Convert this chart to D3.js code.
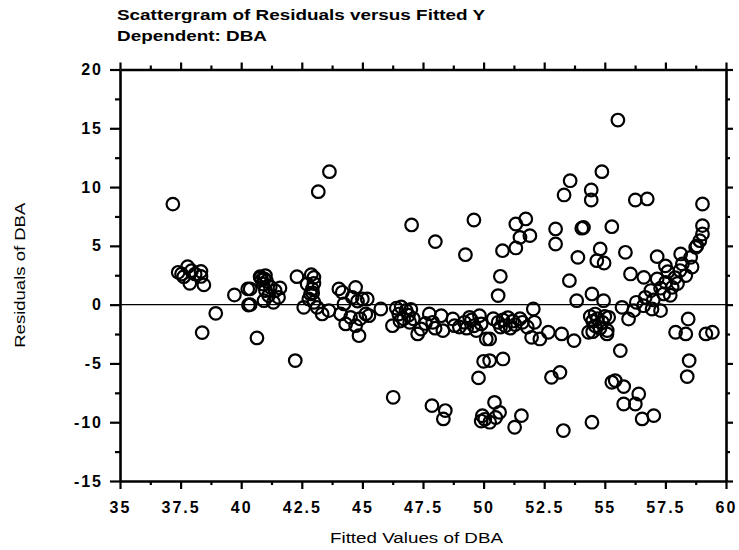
<!DOCTYPE html>
<html>
<head>
<meta charset="utf-8">
<script src="https://cdn.jsdelivr.net/npm/d3@7"></script>
<style>
  html, body { margin: 0; padding: 0; background: #fff; }
  svg { display: block; }
  text { font-family: "Liberation Sans", Arial, sans-serif; fill: #000; }
</style>
</head>
<body>
<svg id="chart" width="739" height="550"></svg>
<script>
// Fitted values (x) and residuals (y) of the DBA regression
const fitted = [
  37.18, 37.40, 37.54, 37.63, 37.79, 37.95, 38.10, 38.34, 38.34, 37.88, 38.46, 38.95, 38.39, 39.72, 40.27, 40.30, 40.65,
  40.37, 40.37, 40.78, 41.00, 40.90, 41.40, 41.60, 41.33, 40.94, 41.54, 41.13, 40.85, 41.05, 41.20, 41.00, 42.23, 40.80, 40.95,
  42.30, 42.89, 43.00, 42.72, 42.93, 42.79, 43.00, 42.58, 43.13, 43.34, 43.62, 42.86, 43.00, 42.95, 43.18, 43.64,
  44.03, 44.17, 44.72, 45.00, 44.58, 44.24, 44.10, 44.31, 44.72, 44.86, 44.51, 45.14, 44.80, 44.90, 45.20, 45.27, 45.76,
  46.24, 46.40, 46.50, 46.60, 46.70, 46.80, 46.90, 46.55, 47.00, 46.95, 47.28, 47.42, 47.10, 47.76, 47.90, 48.25, 48.32,
  48.73, 48.80, 49.21, 49.42, 49.83, 49.90, 50.11, 49.00, 49.30, 49.60, 49.70, 49.50, 47.60, 48.00,
  47.03, 48.01, 49.25, 49.60, 46.27, 47.87, 48.42, 48.34, 50.00, 49.79, 49.95, 50.05, 49.90,
  50.69, 50.60, 50.78, 51.33, 51.50, 51.91, 51.33, 51.74, 52.05, 52.97, 52.97, 53.32, 53.57, 53.54, 53.84, 53.89,
  50.40, 50.60, 50.80, 50.90, 51.00, 51.20, 51.30, 51.50, 51.60, 51.80, 51.10, 50.70, 52.10, 50.25, 51.98, 52.32, 52.67, 53.22, 53.73,
  50.25, 50.80, 52.80, 53.15, 50.45, 50.66, 50.25, 50.50, 51.56, 51.28, 53.29,
  54.44, 54.44, 54.12, 54.05, 54.88, 54.81, 54.67, 54.97, 54.47, 54.95, 54.33, 54.47, 55.29, 55.54,
  54.40, 54.50, 54.60, 54.70, 54.80, 54.50, 54.90, 55.00, 55.10, 54.60, 55.16, 55.09, 55.29,
  56.26, 56.75, 59.03, 55.85, 56.06, 56.61, 57.16, 57.16, 58.13, 58.54, 59.03, 59.03, 58.92, 58.75, 58.20, 58.34,
  57.51, 57.78, 57.43, 56.67, 56.60, 56.95, 57.30, 55.71, 56.19, 55.98, 58.44, 57.92, 58.34, 59.17, 59.44,
  55.64, 58.48, 58.40, 55.43, 55.78, 56.40, 55.78, 56.26, 56.54, 57.02,
  57.60, 57.90, 58.00, 57.30, 57.70, 58.10, 57.50, 56.90, 56.30, 57.00, 58.60, 58.80
];
const residuals = [
  8.55, 2.75, 2.61, 2.38, 3.23, 2.89, 2.60, 2.83, 2.40, 1.81, 1.68, -0.74, -2.38, 0.82, 1.34, -0.03, -2.83,
  1.34, 0.00, 2.38, 2.47, 1.76, 1.19, 1.42, 0.20, 0.34, 0.62, 0.77, 2.10, 2.00, 1.50, 1.20, -4.76, 2.30, 2.20,
  2.38, 2.55, 2.32, 1.76, 1.34, 0.48, 0.20, -0.23, -0.23, -0.79, -0.51, 0.91, 1.80, 1.00, 9.61, 11.31,
  1.34, 1.05, 1.47, 0.48, 0.62, 0.06, -0.79, -1.64, -1.79, -2.64, -1.08, -0.79, 0.30, -1.20, 0.48, -0.94, -0.37,
  -1.79, -0.30, -0.80, -0.20, -1.20, -0.50, -0.90, -1.40, -0.40, -1.50, -2.49, -2.07, -1.20, -0.79, -1.50, -0.94, -2.21,
  -1.22, -1.79, -1.50, -1.08, -0.94, -1.64, -2.92, -1.90, -2.00, -1.80, -2.20, -1.30, -1.60, -2.00,
  6.78, 5.36, 4.25, 7.20, -7.88, -8.59, -9.01, -9.72, -4.82, -6.23, -9.45, -9.75, -9.90,
  2.41, 0.77, 4.59, 4.82, 5.72, 5.87, 6.86, 7.29, -0.37, 6.44, 5.16, 9.33, 10.54, 2.04, 0.34, 4.02,
  -1.20, -1.50, -1.30, -1.80, -1.10, -1.40, -1.70, -1.20, -1.50, -1.90, -2.00, -1.90, -1.50, -2.92, -2.78, -2.92, -2.35, -2.49, -3.06,
  -4.76, -4.62, -6.18, -5.76, -8.31, -9.16, -10.00, -9.60, -9.44, -10.43, -10.71,
  9.75, 8.90, 6.57, 6.50, 11.31, 4.74, 3.74, 3.54, 0.91, 0.34, -2.35, -10.00, 6.63, 15.70,
  -1.00, -1.40, -1.80, -1.20, -2.00, -2.30, -1.50, -1.00, -2.20, -0.80, -1.08, -2.49, -6.60,
  8.90, 8.99, 8.56, 4.45, 2.61, 2.32, 4.08, 2.19, 4.31, 4.02, 6.72, 6.01, 5.44, 4.87, 3.46, 2.47,
  1.90, 1.47, 0.91, 0.62, -0.09, -0.37, -0.51, -0.23, -0.51, -1.22, -1.22, -2.35, -2.49, -2.49, -2.35,
  -3.91, -4.76, -6.12, -6.46, -6.97, -7.60, -8.45, -8.45, -9.72, -9.44,
  2.80, 2.30, 1.80, 1.40, 0.80, 2.90, 3.30, 1.20, 0.20, 0.40, 3.20, 5.00
];

const xTicks = [35, 37.5, 40, 42.5, 45, 47.5, 50, 52.5, 55, 57.5, 60];
const xTickLabels = ["35", "37.5", "40", "42.5", "45", "47.5", "50", "52.5", "55", "57.5", "60"];
const xMinorTicks = [36.25, 38.75, 41.25, 43.75, 46.25, 48.75, 51.25, 53.75, 56.25, 58.75];
const yTicks = [-15, -10, -5, 0, 5, 10, 15, 20];
const yTickLabels = ["-15", "-10", "-5", "0", "5", "10", "15", "20"];
const yMinorTicks = [-12.5, -7.5, -2.5, 2.5, 7.5, 12.5, 17.5];

const titleLines = ["Scattergram of Residuals versus Fitted Y", "Dependent: DBA"];
const xTitle = "Fitted Values of DBA";
const yTitle = "Residuals of DBA";

const svg = d3.select("#chart");
const plotLeft = 120, plotRight = 726, plotTop = 69.5, plotBottom = 481;

const x = d3.scaleLinear().domain([35, 60]).range([plotLeft, plotRight]);
const y = d3.scaleLinear().domain([-15, 20]).range([plotBottom, plotTop]);

// Titles
svg.append("text").attr("x", 117).attr("y", 20)
  .attr("font-size", 15.5).attr("font-weight", "bold")
  .attr("textLength", 368).attr("lengthAdjust", "spacingAndGlyphs")
  .text(titleLines[0]);
svg.append("text").attr("x", 117).attr("y", 41)
  .attr("font-size", 15.5).attr("font-weight", "bold")
  .attr("textLength", 150).attr("lengthAdjust", "spacingAndGlyphs")
  .text(titleLines[1]);

// Zero reference line
svg.append("line")
  .attr("x1", x(35)).attr("x2", x(60))
  .attr("y1", y(0)).attr("y2", y(0))
  .attr("stroke", "#000").attr("stroke-width", 1.4);

function styleAxis(g) {
  g.selectAll("path.domain").attr("stroke", "#000").attr("stroke-width", 2.6);
  g.selectAll(".tick line").attr("stroke", "#000").attr("stroke-width", 2.2);
}

// Bottom axis with labels
const gx = svg.append("g").attr("transform", `translate(0,${plotBottom})`)
  .call(d3.axisBottom(x).tickValues(xTicks).tickSize(8).tickSizeOuter(0).tickPadding(13)
    .tickFormat((d, i) => xTickLabels[i]));
styleAxis(gx);
gx.selectAll("text").attr("font-size", 16).attr("font-weight", "bold")
  .attr("letter-spacing", 2).attr("font-family", "'Liberation Sans', Arial, sans-serif");
svg.append("g").attr("transform", `translate(0,${plotBottom})`)
  .call(d3.axisBottom(x).tickValues(xMinorTicks).tickSize(4).tickFormat(""))
  .call(g => g.select(".domain").remove()).call(styleAxis);

// Top axis (ticks outward, no labels)
const gt = svg.append("g").attr("transform", `translate(0,${plotTop})`)
  .call(d3.axisTop(x).tickValues(xTicks).tickSize(7).tickSizeOuter(0).tickFormat(""));
styleAxis(gt);
svg.append("g").attr("transform", `translate(0,${plotTop})`)
  .call(d3.axisTop(x).tickValues(xMinorTicks).tickSize(4).tickFormat(""))
  .call(g => g.select(".domain").remove()).call(styleAxis);

// Left axis with labels
const gy = svg.append("g").attr("transform", `translate(${plotLeft},0)`)
  .call(d3.axisLeft(y).tickValues(yTicks).tickSize(10).tickSizeOuter(0).tickPadding(7)
    .tickFormat((d, i) => yTickLabels[i]));
styleAxis(gy);
gy.selectAll("text").attr("font-size", 16).attr("font-weight", "bold")
  .attr("letter-spacing", 2).attr("font-family", "'Liberation Sans', Arial, sans-serif");
svg.append("g").attr("transform", `translate(${plotLeft},0)`)
  .call(d3.axisLeft(y).tickValues(yMinorTicks).tickSize(5).tickFormat(""))
  .call(g => g.select(".domain").remove()).call(styleAxis);

// Right axis (ticks outward, no labels)
const gr = svg.append("g").attr("transform", `translate(${plotRight},0)`)
  .call(d3.axisRight(y).tickValues(yTicks).tickSize(7).tickSizeOuter(0).tickFormat(""));
styleAxis(gr);
svg.append("g").attr("transform", `translate(${plotRight},0)`)
  .call(d3.axisRight(y).tickValues(yMinorTicks).tickSize(4).tickFormat(""))
  .call(g => g.select(".domain").remove()).call(styleAxis);

// Axis titles
svg.append("text").attr("x", 416.5).attr("y", 543)
  .attr("text-anchor", "middle").attr("font-size", 15.5)
  .attr("textLength", 173).attr("lengthAdjust", "spacingAndGlyphs")
  .text(xTitle);
svg.append("text")
  .attr("transform", `translate(25,${(plotTop + plotBottom) / 2}) rotate(-90)`)
  .attr("text-anchor", "middle").attr("font-size", 15.5)
  .attr("textLength", 145).attr("lengthAdjust", "spacingAndGlyphs")
  .text(yTitle);

// Residual points: open circles
svg.append("g").selectAll("circle")
  .data(d3.zip(fitted, residuals))
  .join("circle")
  .attr("cx", d => x(d[0]))
  .attr("cy", d => y(d[1]))
  .attr("r", 6.3)
  .attr("fill", "none")
  .attr("stroke", "#000")
  .attr("stroke-width", 2.2);
</script>
</body>
</html>
